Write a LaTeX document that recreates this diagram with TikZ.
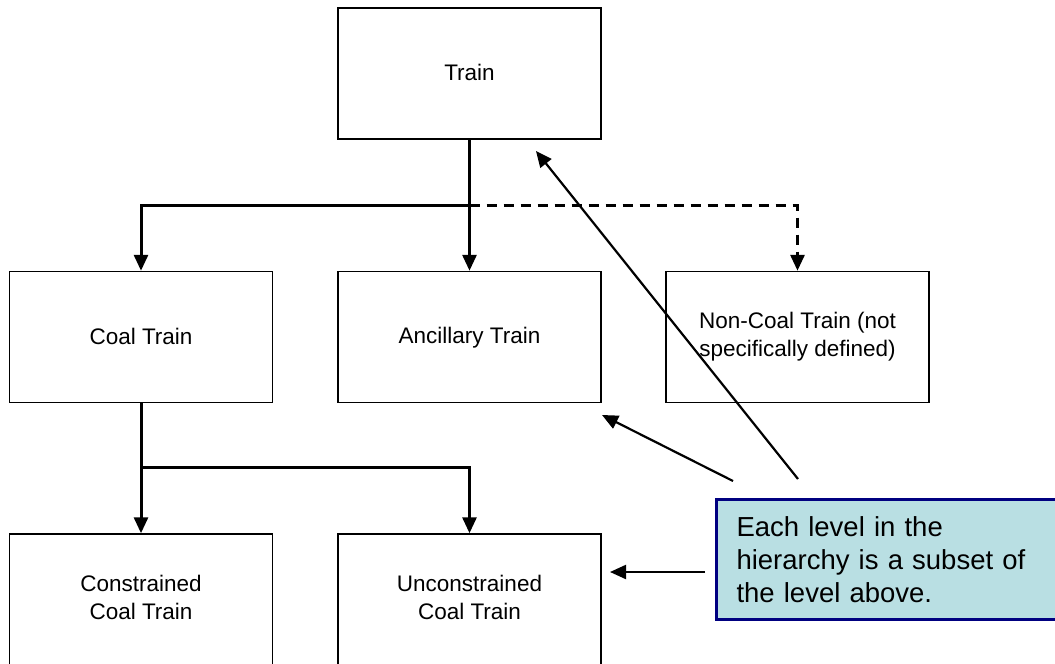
\documentclass[tikz,border=0pt]{standalone}
\usepackage{fontspec}
\setmainfont{Liberation Sans}
\usetikzlibrary{arrows.meta,calc}
\definecolor{notefill}{RGB}{185,223,227}
\definecolor{noteline}{RGB}{0,0,128}
\newcommand{\lvlstrut}{\rule[-2pt]{0pt}{11pt}}

\begin{document}
\begin{tikzpicture}[x=0.5pt,y=-0.5pt]

\tikzset{level/.style={draw,line width=0.75pt,minimum width=131.5pt,minimum height=65.5pt,inner sep=0pt,align=center,font=\fontsize{11.25}{14}\selectfont,execute at begin node=\lvlstrut,execute at end node=\lvlstrut},
link/.style={line width=1.5pt,-{Triangle[width=7pt,length=8pt]}},
pointer/.style={line width=1.1pt,-{Triangle[width=7pt,length=8pt]}},
note/.style={draw=noteline,fill=notefill,line width=1.5pt,text width=152.5pt,inner xsep=10pt,minimum height=60pt,align=left,font=\fontsize{13.75}{16.5}\selectfont}}

\useasboundingbox (0,0) rectangle (1055,664);

% Nodes
\node[level] (train) at (469.5,73.5) {Train};
\node[level] (coal) at (141,337) {Coal Train};
\node[level] (ancillary) at (469.5,337) {Ancillary Train};
\node[level] (noncoal) at (797.5,337) {Non-Coal Train (not\\specifically defined)};
\node[level] (constrained) at (141,599.5) {Constrained\\Coal Train};
\node[level] (unconstrained) at (469.5,599.5) {Unconstrained\\Coal Train};

% Hierarchy links
\coordinate (split1) at (469.5,205.5);
\coordinate (split2) at (141,467.5);
\draw[link] (train.south) -- (ancillary.north);
\draw[link] (split1) -| (coal.north);
\draw[link,dash pattern=on 5pt off 3.5pt] (split1) -| (noncoal.north);
\draw[link] (coal.south) -- (constrained.north);
\draw[link] (split2) -| (unconstrained.north);

% Callout
\node[note,anchor=north west] (subset) at (715,498) {Each level in the\\hierarchy is a subset of\\the level above.};

% Pointers from the callout
\coordinate (tailTop) at (798,479); \coordinate (tipTop) at (536,151);
\coordinate (tailMid) at (733,481); \coordinate (tipMid) at (602,415);
\coordinate (tailLow) at (705,572); \coordinate (tipLow) at (610,572);
\foreach \a/\b in {tailTop/tipTop,tailMid/tipMid,tailLow/tipLow} \draw[pointer] (\a) -- (\b);

\end{tikzpicture}
\end{document}
